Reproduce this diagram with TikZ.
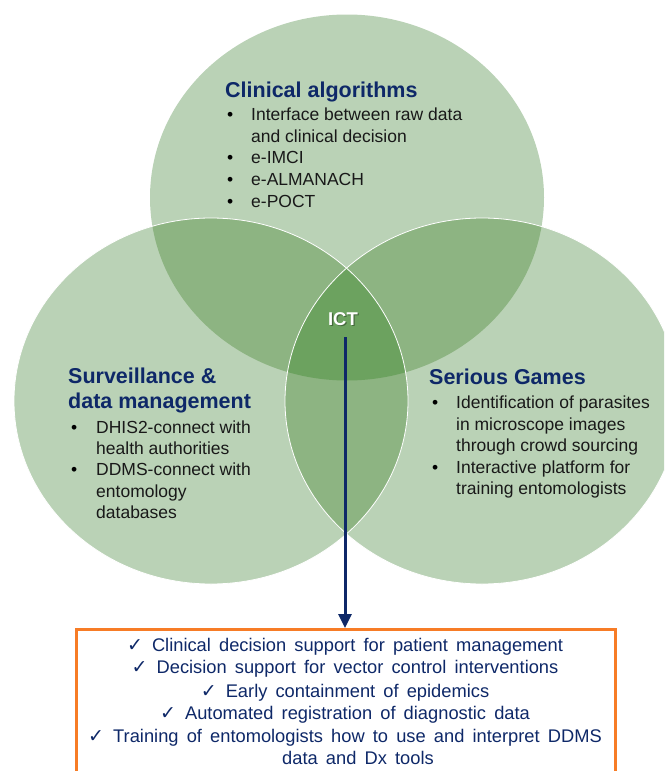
\documentclass[tikz,border=0pt]{standalone}
\usepackage{fontspec}
\setmainfont{Liberation Sans}
\newfontfamily\chkfont{DejaVu Sans}
\newfontfamily\boxfont{Liberation Sans}[WordSpace=1.6]
\usetikzlibrary{arrows.meta}
\definecolor{lightg}{RGB}{186,210,182}
\definecolor{midg}{RGB}{141,180,130}
\definecolor{darkg}{RGB}{108,162,95}
\definecolor{navy}{RGB}{14,40,104}
\definecolor{boxorange}{RGB}{247,124,38}
\definecolor{bodyblack}{RGB}{25,25,25}
\newcommand\chkbox{\makebox[25pt][l]{\chkfont\fontsize{19}{19}\selectfont ✓}}
\begin{document}
\begin{tikzpicture}[x=1pt,y=-1pt,
  hdr/.style={anchor=base west,inner sep=0pt,font=\fontsize{21.5}{25}\selectfont\bfseries,text=navy},
  bodytxt/.style={anchor=base west,inner sep=0pt,font=\fontsize{17.5}{21}\selectfont,text=bodyblack},
  bul/.style={anchor=base west,inner sep=0pt,font=\fontsize{17.5}{21}\selectfont,text=black},
  boxtxt/.style={anchor=base,inner sep=0pt,font=\boxfont\fontsize{18.3}{22}\selectfont,text=navy},
  ring/.style={draw=white,line width=0.8pt},
]
\useasboundingbox (0,0) rectangle (664,771);
\clip (0,0) rectangle (664,771);
% circles
\fill[lightg] (347,197.5) ellipse [x radius=197pt,y radius=183pt];
\fill[lightg] (211,401) ellipse [x radius=197pt,y radius=183pt];
\fill[lightg] (482,401) ellipse [x radius=197pt,y radius=183pt];
\begin{scope}
  \clip (347,197.5) ellipse [x radius=197pt,y radius=183pt];
  \fill[midg] (211,401) ellipse [x radius=197pt,y radius=183pt];
  \fill[midg] (482,401) ellipse [x radius=197pt,y radius=183pt];
\end{scope}
\begin{scope}
  \clip (211,401) ellipse [x radius=197pt,y radius=183pt];
  \fill[midg] (482,401) ellipse [x radius=197pt,y radius=183pt];
\end{scope}
\begin{scope}
  \clip (347,197.5) ellipse [x radius=197pt,y radius=183pt];
  \clip (211,401) ellipse [x radius=197pt,y radius=183pt];
  \fill[darkg] (482,401) ellipse [x radius=197pt,y radius=183pt];
\end{scope}
\draw[ring] (211,401) ellipse [x radius=197pt,y radius=183pt];
\draw[ring] (482,401) ellipse [x radius=197pt,y radius=183pt];

% top circle text
\node[hdr] (cah) at (225,97) {Clinical algorithms};
\node[bul] (cab1) at (227,120) {•};
\node[bodytxt] (cal1) at (251,120) {Interface between raw data};
\node[bodytxt] (cal2) at (251,142) {and clinical decision};
\node[bul] (cab2) at (227,163) {•};
\node[bodytxt] (cal3) at (251,163) {e-IMCI};
\node[bul] (cab3) at (227,185) {•};
\node[bodytxt] (cal4) at (251,185) {e-ALMANACH};
\node[bul] (cab4) at (227,207) {•};
\node[bodytxt] (cal5) at (251,207) {e-POCT};

% left circle text
\node[hdr] (sdh1) at (68,383) {Surveillance \&};
\node[hdr] (sdh2) at (68,408) {data management};
\node[bul] (sdb1) at (71,433) {•};
\node[bodytxt] (sdl1) at (96,433) {DHIS2-connect with};
\node[bodytxt] (sdl2) at (96,454) {health authorities};
\node[bul] (sdb2) at (71,475) {•};
\node[bodytxt] (sdl3) at (96,475) {DDMS-connect with};
\node[bodytxt] (sdl4) at (96,497) {entomology};
\node[bodytxt] (sdl5) at (96,518) {databases};

% right circle text
\node[hdr] (sgh) at (429,384) {Serious Games};
\node[bul] (sgb1) at (432,408) {•};
\node[bodytxt] (sgl1) at (456,408) {Identification of parasites};
\node[bodytxt] (sgl2) at (456,430) {in microscope images};
\node[bodytxt] (sgl3) at (456,451) {through crowd sourcing};
\node[bul] (sgb2) at (432,473) {•};
\node[bodytxt] (sgl4) at (456,473) {Interactive platform for};
\node[bodytxt] (sgl5) at (456,494) {training entomologists};

% ICT
\node[anchor=base,inner sep=0pt,font=\fontsize{18.5}{20}\selectfont\bfseries,text=black,opacity=0.35] (ictsh) at (344.2,326.2) {ICT};
\node[anchor=base,inner sep=0pt,font=\fontsize{18.5}{20}\selectfont\bfseries,text=white] (ict) at (343,325) {ICT};

% result box
\node[draw=boxorange,line width=3pt,minimum width=539pt,minimum height=170pt,anchor=north west,inner sep=0pt] (obox) at (75,628) {};
\coordinate (astart) at (345,337);
\draw[navy,line width=3pt,-{Triangle[length=14pt,width=13pt]}] (astart) -- (astart |- obox.north);

\node[boxtxt] (r1) at (345,651) {\chkbox Clinical decision support for patient management};
\node[boxtxt] (r2) at (345,673) {\chkbox Decision support for vector control interventions};
\node[boxtxt] (r3) at (345,697) {\chkbox Early containment of epidemics};
\node[boxtxt] (r4) at (345,719) {\chkbox Automated registration of diagnostic data};
\node[boxtxt] (r5) at (345,742) {\chkbox Training of entomologists how to use and interpret DDMS};
\node[boxtxt] (r6) at (358,764) {data and Dx tools};
\end{tikzpicture}
\end{document}
